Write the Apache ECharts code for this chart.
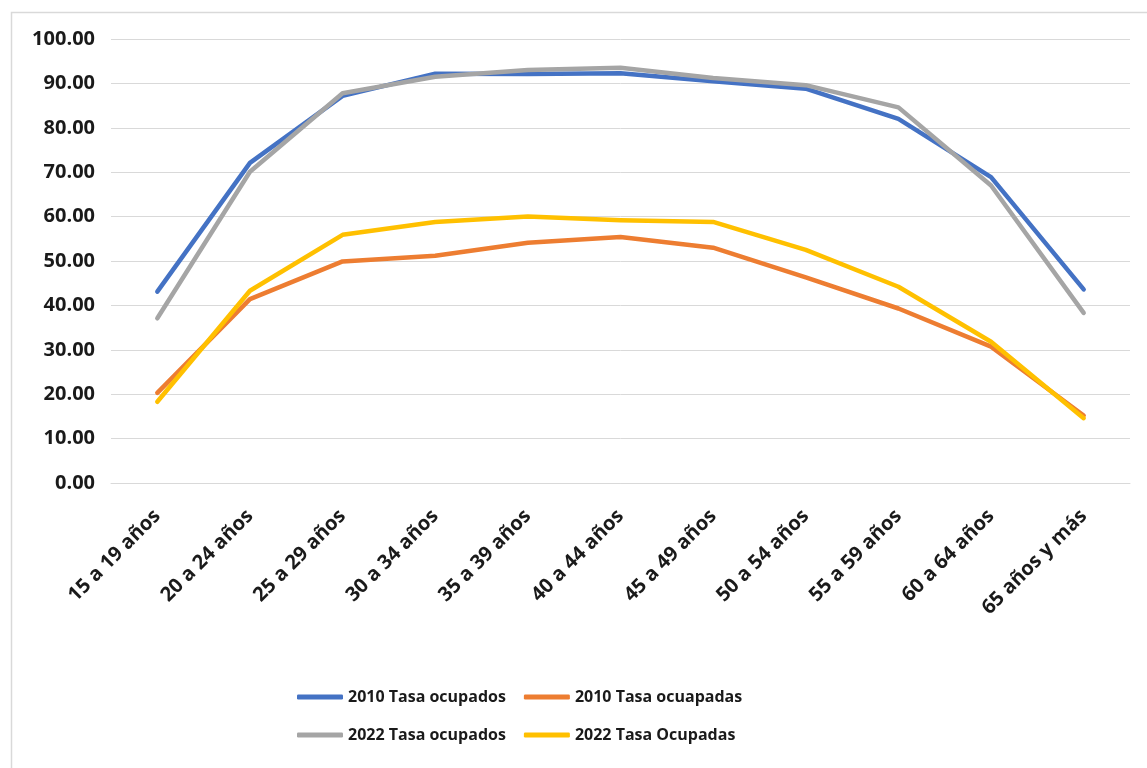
<!DOCTYPE html>
<html>
<head>
<meta charset="utf-8">
<script src="https://cdn.jsdelivr.net/npm/echarts@6/dist/echarts.min.js"></script>
<style>
html,body{margin:0;padding:0;background:#fff;}
#c{width:1147px;height:768px;}
</style>
</head>
<body>
<div id="c"></div>
<script>
const categories = ['15 a 19 años','20 a 24 años','25 a 29 años','30 a 34 años','35 a 39 años','40 a 44 años','45 a 49 años','50 a 54 años','55 a 59 años','60 a 64 años','65 años y más'];
const ocupados2010 = [43.1, 72.1, 87.2, 92.2, 92.1, 92.3, 90.5, 88.8, 82.0, 68.9, 43.6];
const ocupadas2010 = [20.3, 41.4, 49.9, 51.2, 54.1, 55.4, 53.0, 46.3, 39.3, 30.7, 15.2];
const ocupados2022 = [37.1, 70.1, 87.8, 91.5, 93.0, 93.5, 91.2, 89.6, 84.6, 67.0, 38.3];
const ocupadas2022 = [18.3, 43.3, 55.9, 58.8, 60.0, 59.2, 58.8, 52.5, 44.2, 31.8, 14.6];
const seriesNames = ['2010 Tasa ocupados','2010 Tasa ocuapadas','2022 Tasa ocupados','2022 Tasa Ocupadas'];
const seriesColors = ['#4472C4','#ED7D31','#A5A5A5','#FFC000'];
const seriesData = [ocupados2010, ocupadas2010, ocupados2022, ocupadas2022];

const FONT = '"Open Sans", sans-serif';
const legendBase = {
  padding: 0,
  itemWidth: 46, itemHeight: 5, itemGap: 18,
  icon: 'roundRect',
  textStyle: {fontFamily: FONT, fontWeight: 'bold', fontSize: 16, color: '#1a1a1a'}
};
const chart = echarts.init(document.getElementById('c'), null, {renderer:'canvas'});
chart.setOption({
  animation: false,
  backgroundColor: '#fff',
  graphic: [{
    type: 'rect', left: 9, top: 10, shape: {width: 1160, height: 780},
    style: {fill: 'none', stroke: '#d9d9d9', lineWidth: 1.5}, silent: true
  }],
  grid: {left: 111, right: 17, top: 39, bottom: 285, containLabel: false},
  legend: [
    Object.assign({left: 297, top: 689, data: seriesNames.slice(0, 2)}, legendBase),
    Object.assign({left: 297, top: 727, data: seriesNames.slice(2, 4)}, legendBase)
  ],
  xAxis: {
    type: 'category', data: categories, boundaryGap: true,
    axisLine: {show: true, lineStyle: {color: '#d9d9d9', width: 1}},
    axisTick: {show: false},
    axisLabel: {rotate: 45, margin: 30, interval: 0, fontFamily: FONT, fontWeight: 'bold', fontSize: 20, color: '#1a1a1a'}
  },
  yAxis: {
    type: 'value', min: 0, max: 100, interval: 10,
    axisLine: {show: false}, axisTick: {show: false},
    splitLine: {lineStyle: {color: '#d9d9d9', width: 1}},
    axisLabel: {margin: 16, fontFamily: FONT, fontWeight: 'bold', fontSize: 20, color: '#1a1a1a',
      formatter: v => v.toFixed(2)}
  },
  series: seriesNames.map((n, i) => ({
    name: n, type: 'line', data: seriesData[i],
    showSymbol: false, symbol: 'none',
    lineStyle: {color: seriesColors[i], width: 4.5, cap: 'round', join: 'round'},
    itemStyle: {color: seriesColors[i]}
  }))
});
</script>
</body>
</html>
